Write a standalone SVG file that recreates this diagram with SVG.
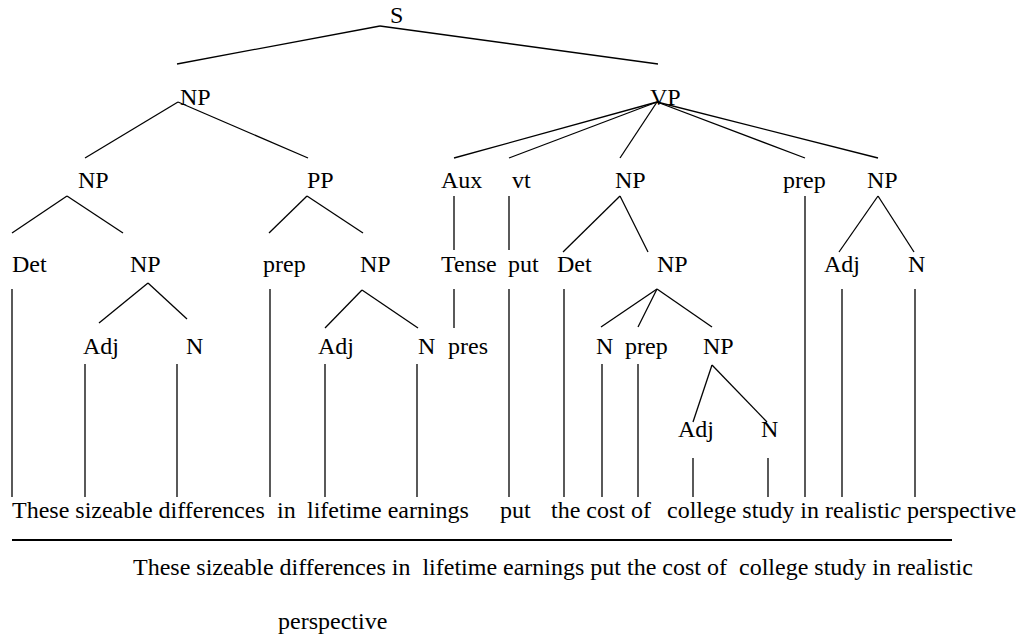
<svg xmlns="http://www.w3.org/2000/svg" width="1020" height="638" viewBox="0 0 1020 638" font-family="Liberation Serif, DejaVu Serif, Times New Roman, serif" font-size="24">
  <style>
    text { font-family: 'Liberation Serif', 'Tinos', 'Times New Roman', 'DejaVu Serif', serif; font-size: 24px; fill: #000; }
    .edge { stroke: #000; stroke-width: 1.3; fill: none; stroke-linecap: butt; }
    .rule { stroke: #000; stroke-width: 2; }
  </style>
  <rect width="1020" height="638" fill="#fff"/>

  <!-- tree branches -->
  <g id="connectors" class="edge">
    <!-- S -->
    <line x1="380" y1="26" x2="177" y2="64"/>
    <line x1="380" y1="26" x2="658" y2="64"/>
    <!-- subject NP -->
    <line x1="178" y1="102" x2="85" y2="158"/>
    <line x1="178" y1="102" x2="308" y2="158"/>
    <!-- VP -->
    <line x1="657" y1="102" x2="454" y2="158"/>
    <line x1="657" y1="102" x2="509" y2="158"/>
    <line x1="657" y1="102" x2="620" y2="158"/>
    <line x1="657" y1="102" x2="805" y2="158"/>
    <line x1="657" y1="102" x2="878" y2="158"/>
    <!-- level 2 -->
    <line x1="67" y1="196" x2="12" y2="233"/>
    <line x1="67" y1="196" x2="123" y2="233"/>
    <line x1="307" y1="196" x2="269" y2="233"/>
    <line x1="307" y1="196" x2="363" y2="233"/>
    <line x1="454" y1="196" x2="454" y2="250"/>
    <line x1="509" y1="196" x2="509" y2="250"/>
    <line x1="620" y1="196" x2="563" y2="252"/>
    <line x1="620" y1="196" x2="648" y2="252"/>
    <line x1="805" y1="196" x2="805" y2="497"/>
    <line x1="878" y1="196" x2="839" y2="252"/>
    <line x1="878" y1="196" x2="914" y2="252"/>
    <!-- level 3 -->
    <line x1="12" y1="289" x2="12" y2="497"/>
    <line x1="148" y1="283" x2="99" y2="323"/>
    <line x1="148" y1="283" x2="187" y2="319"/>
    <line x1="270" y1="289" x2="270" y2="497"/>
    <line x1="362" y1="290" x2="325" y2="328"/>
    <line x1="362" y1="290" x2="418" y2="328"/>
    <line x1="454" y1="289" x2="454" y2="328"/>
    <line x1="509" y1="289" x2="509" y2="497"/>
    <line x1="564" y1="289" x2="564" y2="497"/>
    <line x1="657" y1="289" x2="601" y2="327"/>
    <line x1="657" y1="289" x2="638" y2="327"/>
    <line x1="657" y1="289" x2="712" y2="327"/>
    <line x1="842" y1="289" x2="842" y2="497"/>
    <line x1="915" y1="289" x2="915" y2="497"/>
    <!-- level 4 -->
    <line x1="85" y1="364" x2="85" y2="497"/>
    <line x1="177" y1="364" x2="177" y2="497"/>
    <line x1="325" y1="364" x2="325" y2="497"/>
    <line x1="417" y1="364" x2="417" y2="497"/>
    <line x1="602" y1="364" x2="602" y2="497"/>
    <line x1="638" y1="364" x2="638" y2="497"/>
    <line x1="712" y1="365" x2="693" y2="422"/>
    <line x1="712" y1="365" x2="767" y2="422"/>
    <!-- level 5 -->
    <line x1="693" y1="458" x2="693" y2="497"/>
    <line x1="768" y1="458" x2="768" y2="497"/>
  </g>

  <!-- level 0 / 1 -->
  <g id="n-S"><text x="390" y="23">S</text></g>
  <g id="n-NP-subj"><text x="180" y="105">NP</text></g>
  <g id="n-VP"><text x="650" y="105">VP</text></g>

  <!-- level 2 -->
  <g id="n-NP-a"><text x="78" y="188">NP</text></g>
  <g id="n-PP"><text x="307" y="188">PP</text></g>
  <g id="n-Aux"><text x="441" y="188">Aux</text></g>
  <g id="n-vt"><text x="512" y="188">vt</text></g>
  <g id="n-NP-obj"><text x="615" y="188">NP</text></g>
  <g id="n-prep-vp"><text x="783" y="188">prep</text></g>
  <g id="n-NP-pp"><text x="867" y="188">NP</text></g>

  <!-- level 3 -->
  <g id="n-Det-1"><text x="12" y="272">Det</text></g>
  <g id="n-NP-b"><text x="130" y="272">NP</text></g>
  <g id="n-prep-1"><text x="263" y="272">prep</text></g>
  <g id="n-NP-c"><text x="360" y="272">NP</text></g>
  <g id="n-Tense"><text x="441" y="272">Tense</text></g>
  <g id="n-put"><text x="508" y="272">put</text></g>
  <g id="n-Det-2"><text x="557" y="272">Det</text></g>
  <g id="n-NP-d"><text x="657" y="272">NP</text></g>
  <g id="n-Adj-4"><text x="824" y="272">Adj</text></g>
  <g id="n-N-4"><text x="908" y="272">N</text></g>

  <!-- level 4 -->
  <g id="n-Adj-1"><text x="83" y="354">Adj</text></g>
  <g id="n-N-1"><text x="186" y="354">N</text></g>
  <g id="n-Adj-2"><text x="318" y="354">Adj</text></g>
  <g id="n-N-2"><text x="418" y="354">N</text></g>
  <g id="n-pres"><text x="448" y="354">pres</text></g>
  <g id="n-N-3"><text x="596" y="354">N</text></g>
  <g id="n-prep-2"><text x="625" y="354">prep</text></g>
  <g id="n-NP-e"><text x="703" y="354">NP</text></g>

  <!-- level 5 -->
  <g id="n-Adj-3"><text x="678" y="437">Adj</text></g>
  <g id="n-N-5"><text x="761" y="437">N</text></g>

  <!-- terminal words -->
  <g id="words">
    <text x="12" y="518">These sizeable differences</text>
    <text x="277" y="518">in</text>
    <text x="307" y="518">lifetime earnings</text>
    <text x="500" y="518">put</text>
    <text x="551" y="518">the cost of</text>
    <text x="667" y="518">college study in realisti<tspan font-style="italic">c</tspan> perspective</text>
  </g>

  <line class="rule" x1="12" y1="540" x2="952" y2="540"/>

  <!-- full sentence -->
  <g id="sentence">
    <text x="133" y="575" xml:space="preserve">These sizeable differences in  lifetime earnings put the cost of  college study in realistic</text>
    <text x="278" y="629">perspective</text>
  </g>
</svg>
